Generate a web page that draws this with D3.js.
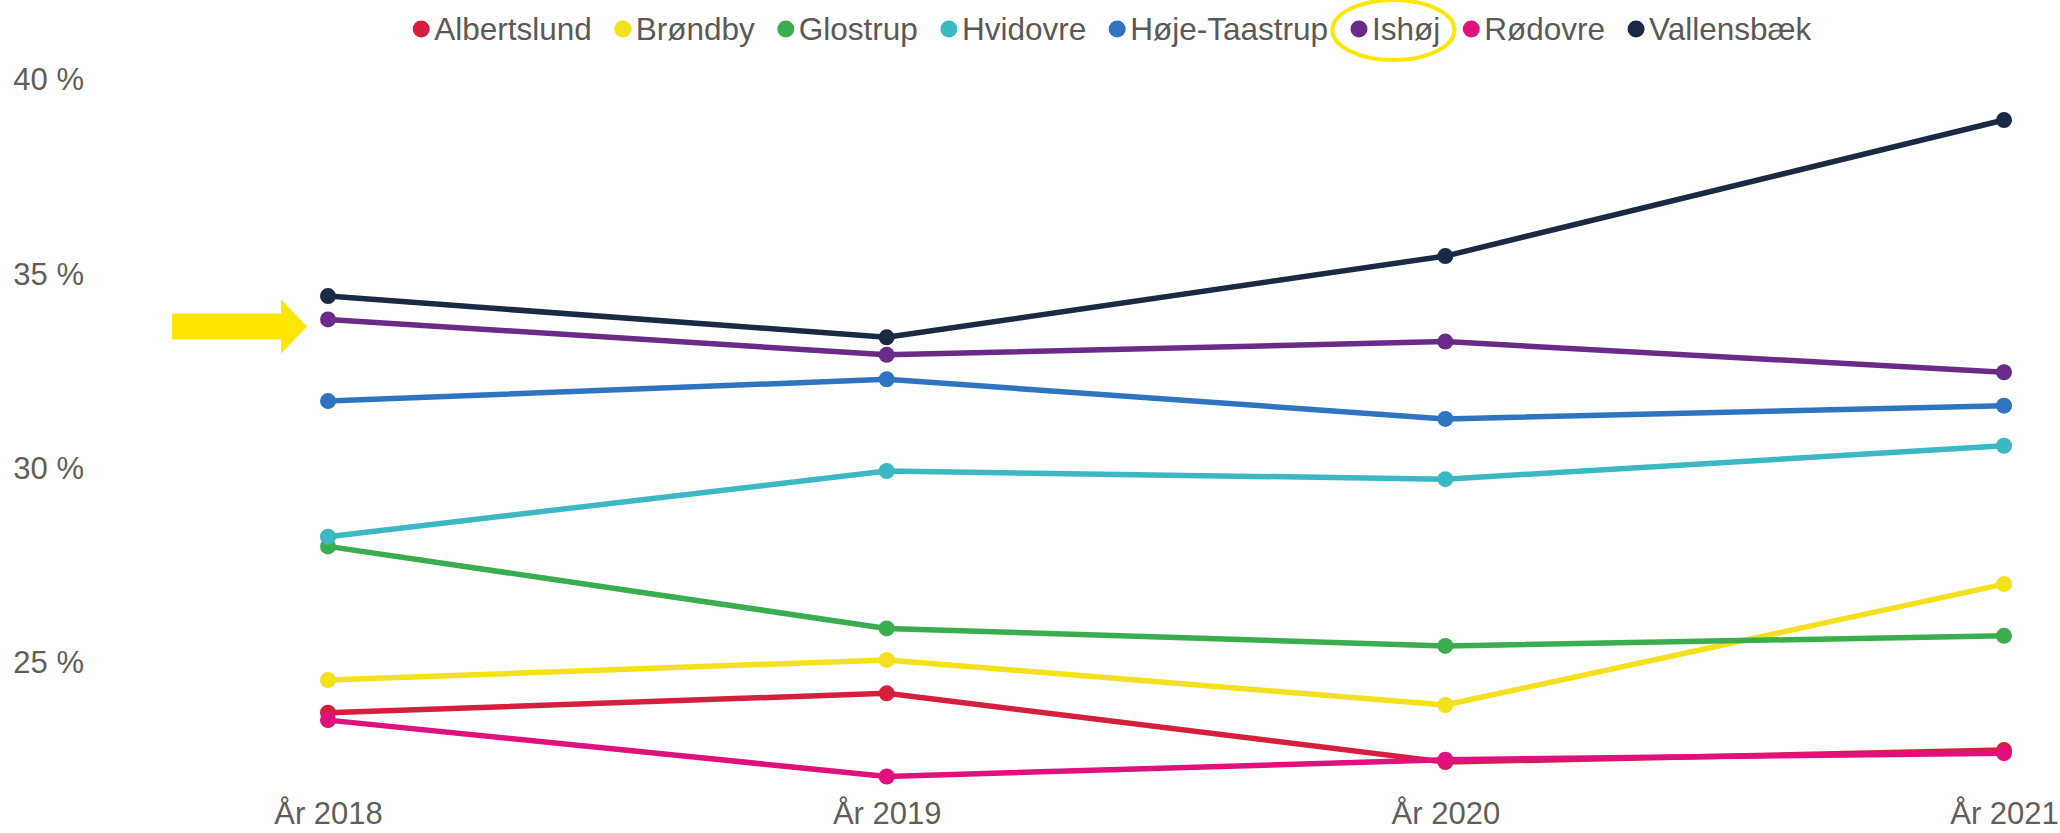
<!DOCTYPE html>
<html>
<head>
<meta charset="utf-8">
<script src="https://cdn.jsdelivr.net/npm/d3@7"></script>
<style>
    body { margin: 0; background: #fff; }
    text { font-family: "Liberation Sans", Arial, sans-serif; }
    .axis text { fill: #5f5e5c; font-size: 31px; }
    .legend text { fill: #5a5958; font-size: 31.5px; }
</style>
</head>
<body>
<svg id="chart" width="2060" height="833"></svg>
<script>
let years = ['År 2018', 'År 2019', 'År 2020', 'År 2021']
let names = ['Albertslund', 'Brøndby', 'Glostrup', 'Hvidovre', 'Høje-Taastrup', 'Ishøj', 'Rødovre', 'Vallensbæk']
let colors = ['#d61f3c', '#f4e01c', '#3aad4e', '#3cb8c4', '#2f74c0', '#6a2a87', '#e0117f', '#1a2a45']

// share in %, per municipality, 2018..2021
let albertslund = [23.72, 24.22, 22.45, 22.76]
let brondby = [24.56, 25.08, 23.92, 27.03]
let glostrup = [28.0, 25.89, 25.44, 25.70]
let hvidovre = [28.25, 29.94, 29.73, 30.59]
let hojeTaastrup = [31.74, 32.30, 31.28, 31.62]
let ishoj = [33.84, 32.93, 33.27, 32.48]
let rodovre = [23.53, 22.08, 22.51, 22.68]
let vallensbaek = [34.44, 33.38, 35.47, 38.97]

let yTicks = [25, 30, 35, 40]

function main() {
    let svg = d3.select('#chart')

    let series = [albertslund, brondby, glostrup, hvidovre, hojeTaastrup, ishoj, rodovre, vallensbaek]
        .map((vals, i) => ({name: names[i], color: colors[i], values: vals.map((v, j) => ({year: years[j], v: v}))}))

    let x = d3.scalePoint().domain(years).range([328, 2004]),
        y = d3.scaleLinear().domain([25, 40]).range([663, 80])

    // y axis
    let yAxis = svg.append('g')
        .attr('class', 'axis')
        .attr('transform', 'translate(84, 0)')
        .call(d3.axisLeft(y).tickValues(yTicks).tickSize(0).tickPadding(0).tickFormat(d => d + ' %'))
    yAxis.select('.domain').remove()

    // x axis
    let xAxis = svg.append('g')
        .attr('class', 'axis')
        .attr('transform', 'translate(0, 802)')
        .call(d3.axisBottom(x).tickSize(0).tickPadding(0))
    xAxis.select('.domain').remove()

    let line = d3.line().x(d => x(d.year)).y(d => y(d.v))

    let g = svg.selectAll('.series')
        .data(series)
        .enter()
        .append('g')
        .attr('class', 'series')

    g.append('path')
        .attr('d', d => line(d.values))
        .attr('fill', 'none')
        .attr('stroke', d => d.color)
        .attr('stroke-width', 5.5)
        .attr('stroke-linejoin', 'round')

    g.selectAll('circle')
        .data(d => d.values.map(p => ({...p, color: d.color})))
        .enter()
        .append('circle')
        .attr('cx', d => x(d.year))
        .attr('cy', d => y(d.v))
        .attr('r', 8)
        .attr('fill', d => d.color)

    // legend, laid out left to right then centred
    let dotGap = 13, itemGap = 31, dotR = 8.5
    let legend = svg.append('g').attr('class', 'legend')
    let items = legend.selectAll('g')
        .data(series)
        .enter()
        .append('g')
    items.append('circle')
        .attr('r', dotR)
        .attr('fill', d => d.color)
    items.append('text')
        .attr('x', dotGap)
        .attr('dy', '0.35em')
        .text(d => d.name)

    let pos = 0, centers = []
    items.each(function (d) {
        let w = d3.select(this).select('text').node().getComputedTextLength()
        d3.select(this).attr('transform', 'translate(' + pos + ', 0)')
        centers.push(pos + (dotGap + w - dotR) / 2)
        pos += dotGap + w + itemGap
    })
    let total = pos - itemGap + dotR
    let legendX = 1112 - total / 2 + dotR
    legend.attr('transform', 'translate(' + legendX + ', 29)')

    // highlight of Ishøj: ring in the legend and arrow at the 2018 point
    let iIshoj = names.indexOf('Ishøj')
    legend.append('ellipse')
        .attr('cx', centers[iIshoj] - 2)
        .attr('cy', 1)
        .attr('rx', 61)
        .attr('ry', 30)
        .attr('fill', 'none')
        .attr('stroke', '#ffe600')
        .attr('stroke-width', 4)

    let tipX = x(years[0]) - 21,
        tipY = y(ishoj[0]) + 7
    svg.append('path')
        .attr('d', 'M' + (tipX - 135) + ',' + (tipY - 13)
            + 'H' + (tipX - 26) + 'V' + (tipY - 27)
            + 'L' + tipX + ',' + tipY
            + 'L' + (tipX - 26) + ',' + (tipY + 27)
            + 'V' + (tipY + 13) + 'H' + (tipX - 135) + 'Z')
        .attr('fill', '#ffe600')
}

main()
</script>
</body>
</html>
